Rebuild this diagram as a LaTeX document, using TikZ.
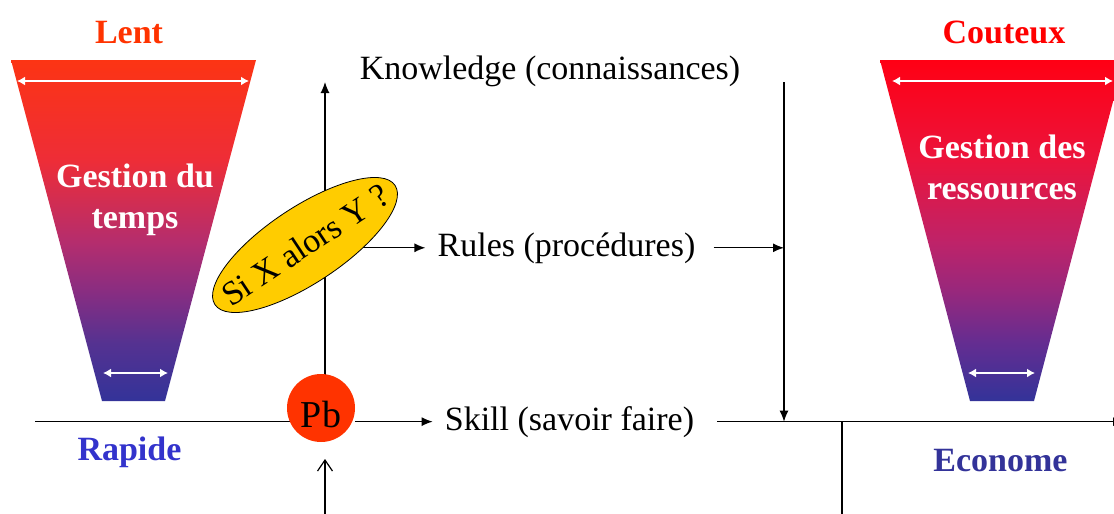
\documentclass[tikz,border=0pt]{standalone}
\usepackage{fontspec}
\setmainfont{Liberation Serif}
\usetikzlibrary{arrows.meta,shapes.geometric,backgrounds}

\definecolor{slowred}{HTML}{FF3300}
\definecolor{costred}{HTML}{FF0000}
\definecolor{fastblue}{HTML}{3333CC}
\definecolor{thriftblue}{HTML}{333399}
\definecolor{gold}{HTML}{FFCC00}
\definecolor{funnelbase}{RGB}{51,51,153}
% time funnel, bottom to top
\definecolor{tfa}{RGB}{85,50,145}
\definecolor{tfb}{RGB}{135,45,130}
\definecolor{tfc}{RGB}{180,45,110}
\definecolor{tfd}{RGB}{238,45,55}
\definecolor{tfe}{RGB}{252,52,20}
% resource funnel, bottom to top
\definecolor{rfa}{RGB}{100,45,145}
\definecolor{rfb}{RGB}{150,40,125}
\definecolor{rfc}{RGB}{190,35,105}
\definecolor{rfd}{RGB}{235,20,60}
\definecolor{rfe}{RGB}{255,0,20}

\pgfdeclareverticalshading{timefunnel}{100bp}{color(0bp)=(funnelbase); color(25bp)=(funnelbase);
  color(33.5bp)=(tfa); color(40.8bp)=(tfb); color(48.2bp)=(tfc); color(60.3bp)=(tfd);
  color(75bp)=(tfe); color(100bp)=(tfe)}
\pgfdeclareverticalshading{resfunnel}{100bp}{color(0bp)=(funnelbase); color(25bp)=(funnelbase);
  color(33.5bp)=(rfa); color(40.8bp)=(rfb); color(48.2bp)=(rfc); color(60.3bp)=(rfd);
  color(75bp)=(rfe); color(100bp)=(rfe)}

\tikzset{
  txt/.style={font=\fontsize{34}{40}\selectfont, inner xsep=12pt, inner ysep=0pt},
  boldtxt/.style={font=\fontsize{34}{41}\selectfont\bfseries, inner sep=0pt},
  link/.style={line width=1.2pt, draw=black},
  arr/.style={link, -{Latex[length=11pt,width=9pt]}},
  span/.style={line width=2pt, white, {Latex[length=8pt,width=9pt]}-{Latex[length=8pt,width=9pt]}},
}

\begin{document}
\begin{tikzpicture}[x=1pt,y=-1pt]
\useasboundingbox (0,0) rectangle (1114,514);
\clip (0,0) rectangle (1114,514);

% time-management funnel
\shade[shading=timefunnel] (11,60) -- (256,60) -- (165,401) -- (102,401) -- cycle;
\draw[span] (17,81) -- (249,81);
\draw[span] (103,373) -- (168,373);
\node[boldtxt, text=white, align=center] (timelbl) at (135,200) {Gestion du\\temps};

% resource-management funnel
\shade[shading=resfunnel] (880,60) -- (1124,60) -- (1034,401) -- (970,401) -- cycle;
\draw[span] (892,81) -- (1113,81);
\draw[span] (968,373) -- (1035,373);
\node[boldtxt, text=white, align=center] (reslbl) at (1002,167) {Gestion des\\ressources};

% extremes of each scale
\node[boldtxt, text=slowred, anchor=base] (lent) at (129,43) {Lent};
\node[boldtxt, text=fastblue, anchor=base] (rapide) at (129.5,460) {Rapide};
\node[boldtxt, text=costred, anchor=base] (couteux) at (1004,43) {Couteux};
\node[boldtxt, text=thriftblue, anchor=base] (econome) at (1000.5,471) {Econome};

% levels of behaviour
\node[txt, anchor=base] (know) at (550,79) {Knowledge (connaissances)};
\node[txt, anchor=base] (rules) at (566.5,256) {Rules (procédures)};
\node[txt, anchor=base] (skill) at (569.5,430) {Skill (savoir faire)};

% problem and rule
\node[circle, fill=slowred, minimum size=68pt, inner sep=0pt, text height=38pt, text depth=0pt,
      font=\fontsize{38}{40}\selectfont] (pb) at (321,408) {Pb};
\node[ellipse, draw=black, line width=0.8pt, fill=gold, rotate=33.5, txt,
      inner xsep=-30pt, inner ysep=0pt, minimum width=216pt, minimum height=76pt]
      (si) at (305,245) {Si X alors Y ?};

% axes and flows
\coordinate (axtop) at (325,82);
\coordinate (axbot) at (325,514);
\coordinate (axlow) at (325,459);
\coordinate (hleft) at (35,422);
\coordinate (knowtop) at (784,82);
\coordinate (hright) at (1124,421);
\coordinate (drop) at (842,514);

\begin{scope}[on background layer]
  \draw[arr] (axtop |- pb.center) -- (axtop);
  \draw[link] (hleft |- skill.west) -- (pb.center |- skill.west);
  \draw[arr] (pb.east |- skill.west) -- (skill.west);
  \draw[arr] (si.center |- rules.west) -- (rules.west);
  \draw[arr] ([xshift=6pt]rules.east) -- (rules.east -| knowtop);
  \draw[arr] (knowtop) -- (knowtop |- skill.east);
  \draw[arr] ([xshift=11pt]skill.east) -- (skill.east -| hright);
  \draw[link] (drop |- skill.east) -- (drop);
  \draw[link, -{Straight Barb[length=11pt,width=15pt]}] (axbot) -- (axlow);
\end{scope}
\end{tikzpicture}
\end{document}
